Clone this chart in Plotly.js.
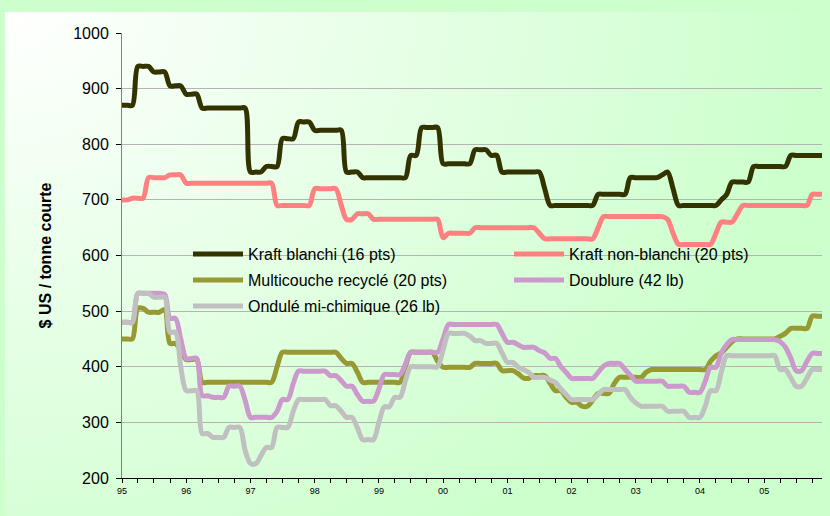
<!DOCTYPE html>
<html><head><meta charset="utf-8">
<script src="https://cdn.plot.ly/plotly-3.0.1.min.js"></script>
<style>
html,body{margin:0;padding:0;background:#ccffcc;}
#wrap{position:relative;width:830px;height:516px;background:#ccffcc;overflow:hidden;}
#bg{position:absolute;left:5px;top:12px;right:0;bottom:0;background:radial-gradient(ellipse 820px 640px at 0px 0px,#ffffff 0%,#ccffcc 100%);}
#chart{position:absolute;left:0;top:0;width:830px;height:516px;}
</style></head><body>
<div id="wrap"><div id="bg"></div><div id="chart"></div></div>
<script>
const years = [1995,1996,1997,1998,1999,2000,2001,2002,2003,2004,2005];
const yearLabels = ['95','96','97','98','99','00','01','02','03','04','05'];
const seriesNames = ['Kraft blanchi (16 pts)','Kraft non-blanchi (20 pts)','Multicouche recyclé (20 pts)','Doublure (42 lb)','Ondulé mi-chimique (26 lb)'];

const kraftBlanchi = [
870,870,870,940,940,940,930,930,930,905,905,905,
890,890,890,865,865,865,865,865,865,865,865,865,
750,750,750,760,760,760,810,810,810,840,840,840,
825,825,825,825,825,825,750,750,750,740,740,740,
740,740,740,740,740,740,780,780,830,830,830,830,
765,765,765,765,765,765,790,790,790,780,780,750,
750,750,750,750,750,750,750,720,690,690,690,690,
690,690,690,690,690,710,710,710,710,710,710,740,
740,740,740,740,740,745,750,720,690,690,690,690,
690,690,690,690,700,710,732,732,732,732,760,760,
760,760,760,760,760,780,780,780,780,780,780,780];

const kraftNonBlanchi = [
700,700,703,703,703,740,740,740,740,745,745,745,
730,730,730,730,730,730,730,730,730,730,730,730,
730,730,730,730,730,690,690,690,690,690,690,690,
720,720,720,720,720,690,665,665,675,675,675,665,
665,665,665,665,665,665,665,665,665,665,665,665,
632,640,640,640,640,640,650,650,650,650,650,650,
650,650,650,650,650,650,640,630,630,630,630,630,
630,630,630,630,630,650,670,670,670,670,670,670,
670,670,670,670,670,670,665,640,620,620,620,620,
620,620,620,640,660,660,660,675,690,690,690,690,
690,690,690,690,690,690,690,690,690,710,710,710];

const multicouche = [
450,450,450,505,505,498,498,498,503,442,442,430,
413,413,413,372,372,372,372,372,372,372,372,372,
372,372,372,372,372,400,426,426,426,426,426,426,
426,426,426,426,426,415,406,406,390,372,372,372,
372,372,372,372,372,400,426,426,426,426,426,410,
399,399,399,399,399,399,406,406,406,406,406,393,
393,393,388,380,379,384,384,384,370,357,357,345,
336,336,329,329,340,352,352,352,370,381,381,381,
381,381,390,395,395,395,395,395,395,395,395,395,
395,395,410,420,425,435,445,450,450,450,450,450,
450,450,450,455,460,469,469,469,469,491,491,491];

const doublure = [
480,480,480,532,532,532,532,532,530,487,487,450,
415,415,415,348,348,345,345,345,365,365,365,340,
309,309,309,309,309,320,341,341,370,392,392,392,
392,392,392,384,384,375,365,365,350,338,338,338,
360,386,386,386,386,405,426,426,426,426,426,426,
450,476,476,476,476,476,476,476,476,476,476,460,
444,444,440,435,435,435,429,425,415,415,400,390,
379,379,379,379,379,390,401,406,406,406,395,385,
374,374,374,374,374,374,365,365,365,365,354,354,
354,375,399,399,425,440,449,449,449,449,449,449,
449,449,449,445,435,415,393,393,410,424,424,424];

const ondule = [
480,480,480,532,532,532,525,525,525,462,462,400,
357,357,357,280,280,273,273,273,291,291,291,250,
226,226,240,255,255,291,291,291,320,341,341,341,
341,341,341,330,330,320,309,309,290,269,269,269,
300,328,328,345,345,375,400,400,400,400,400,400,
430,460,460,460,460,455,447,447,442,442,442,425,
408,408,400,395,390,381,381,381,376,372,360,350,
341,341,341,341,341,350,359,359,359,359,359,345,
335,329,329,329,329,329,320,320,320,320,309,309,
309,330,357,357,390,420,420,420,420,420,420,420,
420,420,420,395,395,380,365,365,380,395,395,395];

const months = [];
years.forEach(y => { for (let m = 1; m <= 12; m++) months.push(y + '-' + String(m).padStart(2,'0') + '-01'); });
const tickDates = years.map(y => y + '-01-01');

const colors = ['#333300','#ff8080','#999933','#cc99cc','#c0c0c0'];
const allSeries = [kraftBlanchi, kraftNonBlanchi, multicouche, doublure, ondule];
const legendIds = ['legend','legend2','legend3','legend4','legend5'];

const traces = allSeries.map((vals, i) => ({
  type: 'scatter', mode: 'lines', x: months, y: vals, name: seriesNames[i],
  line: {color: colors[i], width: 5, shape: 'spline', smoothing: 0.9},
  legend: legendIds[i], hoverinfo: 'skip'
}));

const col1 = 0.0943, col2 = 0.5529;
const row1 = 0.503, row2 = 0.445, row3 = 0.3865;
function leg(x, y) {
  return {
    orientation: 'h', bgcolor: 'rgba(0,0,0,0)', borderwidth: 0,
    font: {family: 'Liberation Sans, Arial, sans-serif', size: 16, color: '#000'},
    itemwidth: 50, xanchor: 'left', yanchor: 'middle', x: x, y: y
  };
}

const layout = {
  width: 830, height: 516,
  margin: {l: 122, r: 8, t: 33, b: 38},
  paper_bgcolor: 'rgba(0,0,0,0)', plot_bgcolor: 'rgba(0,0,0,0)',
  font: {family: 'Liberation Sans, Arial, sans-serif', color: '#000'},
  showlegend: true,
  legend: leg(col1, row1),
  legend2: leg(col2, row1),
  legend3: leg(col1, row2),
  legend4: leg(col2, row2),
  legend5: leg(col1, row3),
  xaxis: {
    type: 'date', range: ['1995-01-01', '2005-11-25'],
    tickmode: 'array', tickvals: tickDates, ticktext: yearLabels,
    tickfont: {family: 'Liberation Sans Narrow, Arial Narrow, sans-serif', size: 9, color: '#000'},
    ticks: 'outside', ticklen: 4, tickcolor: '#000', tickwidth: 1,
    minor: {dtick: 'M3', tick0: '1995-01-01', ticks: 'outside', ticklen: 4, tickcolor: '#000', showgrid: false},
    showline: true, linecolor: '#000', linewidth: 1,
    showgrid: false, zeroline: false, fixedrange: true
  },
  xaxis2: {
    type: 'date', overlaying: 'x', anchor: 'y', range: ['1995-01-01', '2005-11-25'],
    tickmode: 'linear', tick0: '1995-01-01', dtick: 'M3',
    ticks: 'inside', ticklen: 4, tickcolor: '#000', showticklabels: false,
    showline: false, showgrid: false, zeroline: false
  },
  yaxis: {
    range: [200, 1000], dtick: 100, tick0: 200,
    tickfont: {family: 'Liberation Sans, Arial, sans-serif', size: 16, color: '#000'},
    ticks: 'outside', ticklen: 5, tickcolor: '#000', ticklabelstandoff: 4,
    showline: true, linecolor: '#808080', linewidth: 1,
    showgrid: true, gridcolor: '#b4b4b4', gridwidth: 1,
    zeroline: false,
    title: {text: '$ US / tonne courte', standoff: 17,
            font: {family: 'Liberation Sans, Arial, sans-serif', size: 16, weight: 'bold', color: '#000'}}
  }
};

Plotly.newPlot('chart', traces, layout, {displayModeBar: false, staticPlot: true});
</script>
</body></html>
